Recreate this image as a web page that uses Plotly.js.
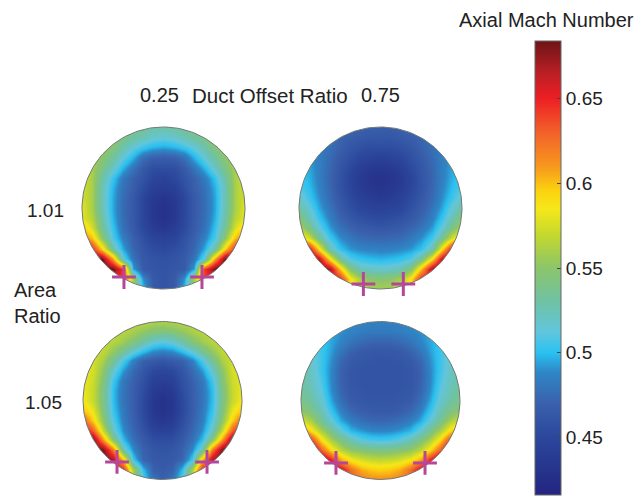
<!DOCTYPE html>
<html><head><meta charset="utf-8">
<script src="https://cdn.plot.ly/plotly-3.0.1.min.js"></script>
<style>html,body{margin:0;padding:0;background:#fff}</style></head>
<body><div id="chart" style="width:644px;height:497px"></div>
<script>
const gridX=[-1,-0.875,-0.75,-0.625,-0.5,-0.375,-0.25,-0.125,0,0.125,0.25,0.375,0.5,0.625,0.75,0.875,1];
const gridY=[1,0.875,0.75,0.625,0.5,0.375,0.25,0.125,0,-0.125,-0.25,-0.375,-0.5,-0.625,-0.75,-0.875,-1];
// Axial Mach number x 1000, rows top to bottom
const discA=[
[560,560,555,550,545,540,535,530,530,530,535,540,545,550,555,560,560],
[565,565,560,555,540,532,525,518,515,518,525,532,540,555,560,565,565],
[570,565,555,545,528,515,505,498,495,498,505,515,528,545,555,565,570],
[572,565,550,532,515,498,478,470,468,470,478,498,515,532,550,565,572],
[575,560,540,520,497,480,465,455,455,455,465,480,497,520,540,560,575],
[575,560,530,503,482,470,460,450,445,450,460,470,482,503,530,560,575],
[575,560,525,497,478,468,455,442,440,442,455,468,478,497,525,560,575],
[575,560,525,495,476,465,450,437,432,437,450,465,476,495,525,560,575],
[580,560,525,495,475,465,450,435,430,435,450,465,475,495,525,560,580],
[580,565,530,497,476,465,450,435,430,435,450,465,476,497,530,565,580],
[600,575,535,502,478,466,452,440,435,440,452,466,478,502,535,575,600],
[625,600,550,508,485,470,458,448,445,448,458,470,485,508,550,600,625],
[665,650,595,530,495,473,462,455,452,455,462,473,495,530,595,650,665],
[685,685,685,610,515,480,465,460,458,460,465,480,515,610,685,685,685],
[685,685,685,685,640,495,465,462,460,462,465,495,640,685,685,685,685],
[640,640,640,640,640,560,490,465,460,465,490,560,640,640,640,640,640],
[590,590,590,590,590,550,500,465,460,465,500,550,590,590,590,590,590]];
const discB=[
[480,480,480,478,475,473,470,468,468,468,470,473,475,478,480,480,480],
[480,480,480,478,472,468,465,463,462,463,465,468,472,478,480,480,480],
[490,485,482,478,470,462,458,455,455,455,458,462,470,478,482,485,490],
[495,490,485,475,465,458,450,447,445,447,450,458,465,475,485,490,495],
[500,495,485,473,462,452,442,437,435,437,442,452,462,473,485,495,500],
[505,497,485,472,460,448,438,432,430,432,438,448,460,472,485,497,505],
[510,500,487,473,460,450,440,435,432,435,440,450,460,473,487,500,510],
[520,505,490,475,463,453,445,440,437,440,445,453,463,475,490,505,520],
[530,515,495,480,467,458,450,447,445,447,450,458,467,480,495,515,530],
[545,525,503,485,472,464,458,455,453,455,458,464,472,485,503,525,545],
[565,540,515,493,480,472,467,464,462,464,467,472,480,493,515,540,565],
[600,575,535,505,490,482,476,474,473,474,476,482,490,505,535,575,600],
[660,660,590,525,502,492,488,486,485,486,488,492,502,525,590,660,660],
[685,685,665,590,535,510,503,500,498,500,503,510,535,590,665,685,685],
[685,685,685,670,600,545,525,520,518,520,525,545,600,670,685,685,685],
[650,650,650,650,650,590,560,550,548,550,560,590,650,650,650,650,650],
[600,600,600,600,600,590,570,560,558,560,570,590,600,600,600,600,600]];
const discC=[
[570,570,570,570,568,566,565,563,562,563,565,566,568,570,570,570,570],
[575,572,570,568,565,560,552,545,542,545,552,560,565,568,570,572,575],
[578,575,570,565,557,545,530,517,512,517,530,545,557,565,570,575,578],
[580,575,568,552,535,515,500,488,485,488,500,515,535,552,568,575,580],
[582,575,560,535,508,485,470,465,462,465,470,485,508,535,560,575,582],
[582,575,550,517,492,475,462,452,450,452,462,475,492,517,550,575,582],
[582,572,545,505,482,470,458,445,442,445,458,470,482,505,545,572,582],
[583,570,540,500,480,468,455,438,435,438,455,468,480,500,540,570,583],
[585,570,540,500,480,468,452,435,430,435,452,468,480,500,540,570,585],
[600,580,543,503,482,468,452,435,430,435,452,468,482,503,543,580,600],
[630,595,550,510,484,470,455,440,435,440,455,470,484,510,550,595,630],
[665,630,570,520,490,473,460,448,445,448,460,473,490,520,570,630,665],
[685,680,610,545,500,478,465,456,455,456,465,478,500,545,610,680,685],
[685,685,680,620,525,488,470,462,460,462,470,488,525,620,680,685,685],
[685,685,685,670,600,505,472,465,463,465,472,505,600,670,685,685,685],
[650,650,650,650,650,560,500,470,465,470,500,560,650,650,650,650,650],
[600,600,600,600,600,570,510,480,470,480,510,570,600,600,600,600,600]];
const discD=[
[495,495,495,495,492,490,488,486,486,486,488,490,492,495,495,495,495],
[510,505,500,495,490,487,484,482,482,482,484,487,490,495,500,505,510],
[515,510,505,495,487,480,475,472,472,472,475,480,487,495,505,510,515],
[520,515,505,493,480,470,465,463,463,463,465,470,480,493,505,515,520],
[525,518,505,490,473,465,462,461,460,461,462,465,473,490,505,518,525],
[528,520,505,488,470,462,460,460,460,460,460,462,470,488,505,520,528],
[530,522,508,488,470,462,460,460,460,460,460,462,470,488,508,522,530],
[535,525,512,490,472,463,461,460,460,460,461,463,472,490,512,525,535],
[540,530,517,495,477,466,463,462,462,462,463,466,477,495,517,530,540],
[550,540,525,503,485,473,468,465,465,465,468,473,485,503,525,540,550],
[575,560,535,515,495,484,478,474,473,474,478,484,495,515,535,560,575],
[620,590,560,537,515,498,492,488,487,488,492,498,515,537,560,590,620],
[660,640,590,560,540,525,512,507,505,507,512,525,540,560,590,640,660],
[685,680,630,590,565,550,545,541,540,541,545,550,565,590,630,680,685],
[685,685,680,650,605,585,575,570,568,570,575,585,605,650,680,685,685],
[670,670,670,670,660,625,605,598,595,598,605,625,660,670,670,670,670],
[640,640,640,640,640,630,620,615,615,615,620,630,640,640,640,640,640]];
const probeX=[[-0.485,0.472],[-0.21,0.28],[-0.572,0.56],[-0.56,0.56]];
const probeY=[[-0.852,-0.852],[-0.938,-0.938],[-0.778,-0.778],[-0.79,-0.79]];
const colorTicks=[0.45,0.5,0.55,0.6,0.65];
const colorTickText=['0.45','0.5','0.55','0.6','0.65'];
const zMin=0.416,zMax=0.684;
const stops=[[0,'#23257f'],[0.127,'#2b479c'],[0.2,'#3a60ac'],[0.27,'#2f86c6'],[0.313,'#29c1f0'],[0.36,'#62c6dc'],[0.425,'#6fc2a5'],[0.5,'#8cc56a'],[0.574,'#c5d92d'],[0.63,'#f5e71a'],[0.67,'#fcd20f'],[0.724,'#f7981d'],[0.8,'#f2602a'],[0.873,'#ed1f24'],[0.93,'#b91f25'],[1,'#6d1416']];

const W=644,H=497,pad=1.1;
const discs=[{c:[163.5,208],r:[81.5,81],z:discA},{c:[380.5,208],r:[81.5,81],z:discB},{c:[162.5,400.5],r:[79.5,79],z:discC},{c:[380.5,400.5],r:[79.5,79],z:discD}];
const ring=[];for(let i=0;i<=180;i++){ring.push(i*Math.PI/90)}
const cx=ring.map(Math.cos),cy=ring.map(Math.sin);
// white surround with a hole for the disc, made of two overlapping halves (same winding) so no seam shows
const arc=(a,b)=>{const p=[];for(let t=a;t<=b;t+=2){p.push(t*Math.PI/180)}return p};
const L=arc(84,276).reverse(),R=arc(-96,96).reverse(),o=1.09,e=Math.cos(84*Math.PI/180);
const maskX=[e,-o,-o,e].concat(L.map(v=>Math.cos(v)),[null],[-e,o,o,-e],R.map(v=>Math.cos(v)));
const maskY=[o,o,-o,-o].concat(L.map(v=>Math.sin(v)),[null],[-o,-o,o,o],R.map(v=>Math.sin(v)));
const data=[],layout={width:W,height:H,margin:{l:0,r:0,t:0,b:0},paper_bgcolor:'#fff',plot_bgcolor:'#fff',showlegend:false,
 font:{family:'"Liberation Sans",Arial,sans-serif',color:'#222'},annotations:[]};
discs.forEach((d,i)=>{
 const s=i?String(i+1):'',xa='x'+s,ya='y'+s;
 layout['xaxis'+s]={domain:[(d.c[0]-pad*d.r[0])/W,(d.c[0]+pad*d.r[0])/W],range:[-pad,pad],visible:false,anchor:ya,fixedrange:true};
 layout['yaxis'+s]={domain:[1-(d.c[1]+pad*d.r[1])/H,1-(d.c[1]-pad*d.r[1])/H],range:[-pad,pad],visible:false,anchor:xa,fixedrange:true};
 const hm={type:'heatmap',x:gridX,y:gridY,z:d.z.map(r=>r.map(v=>v/1000)),xaxis:xa,yaxis:ya,zmin:zMin,zmax:zMax,zsmooth:'best',colorscale:stops,showscale:i===0,hoverinfo:'skip'};
 if(i===0)hm.colorbar={x:535/W,xanchor:'left',xref:'paper',y:2/H,yanchor:'bottom',yref:'paper',thickness:26,thicknessmode:'pixels',len:454,lenmode:'pixels',xpad:0,ypad:0,
  tickmode:'array',tickvals:colorTicks,ticktext:colorTickText,ticks:'inside',ticklen:4,tickcolor:'#444',tickwidth:1,tickfont:{size:19,family:'"Liberation Sans",Arial,sans-serif',color:'#222'},outlinecolor:'#666',outlinewidth:1};
 data.push(hm);
 data.push({type:'scatter',mode:'lines',xaxis:xa,yaxis:ya,x:maskX,y:maskY,fill:'toself',fillcolor:'#fff',line:{width:0},hoverinfo:'skip'});
 data.push({type:'scatter',mode:'lines',xaxis:xa,yaxis:ya,x:cx,y:cy,line:{color:'#6f7a78',width:1},hoverinfo:'skip'});
 data.push({type:'scatter',mode:'markers',xaxis:xa,yaxis:ya,x:probeX[i],y:probeY[i],cliponaxis:false,marker:{symbol:'cross-thin',size:17,color:'#b5479b',line:{color:'#b5479b',width:3}},hoverinfo:'skip'});
});
function label(t,x,y,size){layout.annotations.push({text:t,xref:'paper',yref:'paper',x:x/W,y:1-y/H,xanchor:'left',yanchor:'middle',showarrow:false,font:{size:size},align:'left'})}
label('Axial Mach Number',457,20,20);
label('0.25',138,95,20);label('Duct Offset Ratio',190,95,20.5);label('0.75',359,95,20);
label('1.01',25,210,19);label('Area',12,290,20);label('Ratio',12,316,20);label('1.05',23,402,19);
Plotly.newPlot('chart',data,layout,{displayModeBar:false,staticPlot:true});
</script></body></html>
